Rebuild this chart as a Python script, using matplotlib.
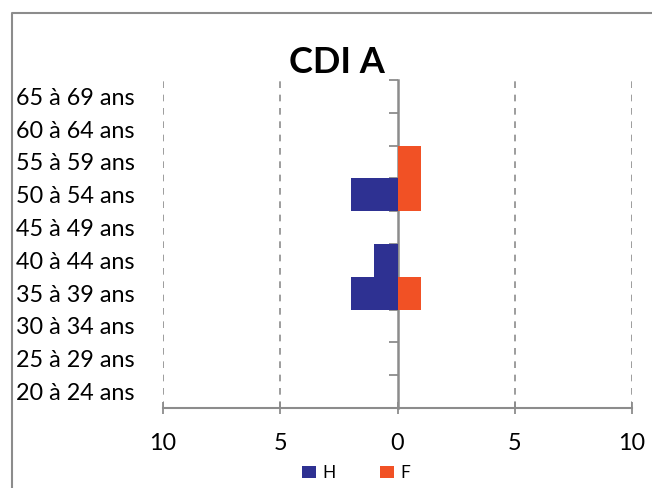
import matplotlib
matplotlib.use('Agg')
import matplotlib.pyplot as plt
from matplotlib.lines import Line2D
import numpy as np

# age groups, bottom to top
categories = ['20 à 24 ans', '25 à 29 ans', '30 à 34 ans', '35 à 39 ans', '40 à 44 ans',
              '45 à 49 ans', '50 à 54 ans', '55 à 59 ans', '60 à 64 ans', '65 à 69 ans']
hommes = [0, 0, 0, 2, 1, 0, 2, 0, 0, 0]
femmes = [0, 0, 0, 1, 0, 0, 1, 1, 0, 0]
xticks = [-10, -5, 0, 5, 10]

plt.rcParams['font.family'] = ['Lato', 'DejaVu Sans']
blue = '#2E3192'
orange = '#F15125'
gray = '#8C8C8C'

W, H = 652, 488
fig = plt.figure(figsize=(W / 100, H / 100), dpi=100)
ax = fig.add_axes([163 / W, 80 / H, (632 - 163) / W, (408 - 80) / H])

y = np.arange(len(categories))
bh = ax.barh(y, -np.array(hommes), height=1.0, color=blue, label='H', zorder=3)
bf = ax.barh(y, femmes, height=1.0, color=orange, label='F', zorder=3)

ax.set_xlim(-10, 10)
ax.set_ylim(-0.5, len(categories) - 0.5)
ax.set_xticks(xticks)
ax.set_xticklabels([str(abs(t)) for t in xticks])
ax.set_yticks(y)
ax.set_yticklabels(categories, ha='left')
ax.tick_params(axis='y', length=0, pad=(163 - 16) * 0.72, labelsize=16.8)
ax.tick_params(axis='x', direction='inout', length=8.5, width=1.3, color=gray,
               labelsize=16.8, pad=13.5)

for s in ['top', 'right', 'left']:
    ax.spines[s].set_visible(False)
ax.spines['bottom'].set_color(gray)
ax.spines['bottom'].set_linewidth(1.5)

for t in [-10, -5, 5, 10]:
    ax.axvline(t, color=gray, lw=1.2, ls=(0, (4, 4)), zorder=1)

# centre axis with ticks between age groups
sec = ax.secondary_yaxis(0.5)
sec.set_alignment('left')
sec.set_yticks(np.arange(len(categories) + 1) - 0.5)
sec.set_yticklabels([])
sec.tick_params(direction='out', length=6.5, width=1.3, color=gray)
sec.spines['left'].set_color(gray)
sec.spines['left'].set_linewidth(1.8)

fig.text(337 / W, 1 - 73 / H, 'CDI A', ha='center', va='baseline',
         fontsize=26, fontweight='bold')

fig.legend(handles=[bh, bf], loc='center', bbox_to_anchor=(356 / W, 1 - 473 / H),
           ncol=2, frameon=False, fontsize=12.5, handlelength=0.8, handleheight=0.75,
           handletextpad=0.35, columnspacing=2.6, borderpad=0)

# chart border (top and left edges visible)
fig.add_artist(Line2D([12 / W, 12 / W, 1], [0, 1 - 13 / H, 1 - 13 / H],
                      transform=fig.transFigure, color=gray, lw=1.5))

fig.savefig('out.png', dpi=100)
